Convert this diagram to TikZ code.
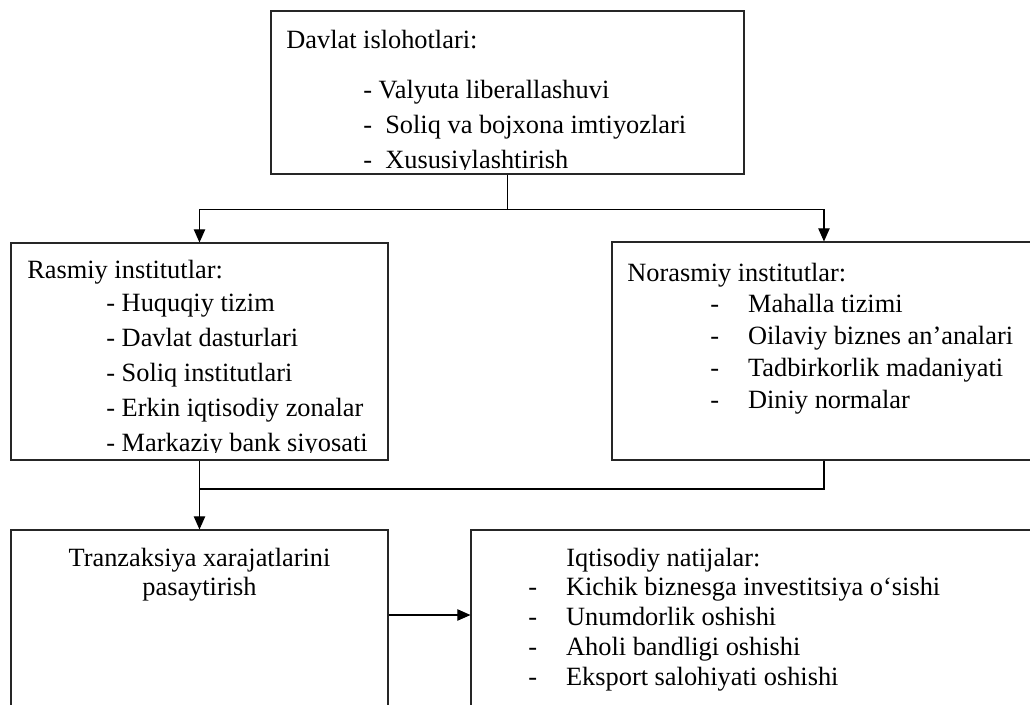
\documentclass[tikz,border=0pt]{standalone}
\usepackage{fontspec}
\setmainfont{Liberation Serif}
\usetikzlibrary{arrows.meta,fit}
\tikzset{
  box/.style={draw=black!85, line width=0.6pt},
  conn/.style={black, line width=0.65pt},
  arr/.style={conn, -{Triangle[length=7.5pt,width=6.5pt]}},
}
\newcommand{\dashitem}[1]{\makebox[21.5pt][l]{-}#1}

\begin{document}
\begin{tikzpicture}[scale=0.2]
\tikzstyle{every node}+=[inner sep=0pt, font=\fontsize{15}{18}\selectfont]
\clip (0,0) rectangle (103,-70.5);
% boxes
\node [box, fit={(27.1,-1.1) (74.4,-17.4)}] (reform) {};
\node [box, fit={(1.1,-24.3) (38.8,-46)}] (rasmiy) {};
\node [box, fit={(61.2,-24.2) (103.6,-46)}] (norasmiy) {};
\node [box, fit={(1.1,-53) (38.8,-75)}] (tranz) {};
\node [box, fit={(47.1,-53) (106,-75)}] (iqtisod) {};
% Davlat islohotlari
\begin{scope}
\clip (27.1,-1.1) rectangle (74.4,-16.95);
\node [anchor=base west] (reftitle) at (28.6,-4.8) {Davlat islohotlari:};
\node [anchor=base west] (ref1) at (36.3,-9.8) {- Valyuta liberallashuvi};
\node [anchor=base west] (ref2) at (36.3,-13.3) {-\ \ Soliq va bojxona imtiyozlari};
\node [anchor=base west] (ref3) at (36.3,-16.8) {-\ \ Xususiylashtirish};
\end{scope}
% Rasmiy institutlar
\begin{scope}
\clip (1.1,-24.3) rectangle (38.8,-45.25);
\node [anchor=base west] (rastitle) at (2.7,-27.8) {Rasmiy institutlar:};
\node [anchor=base west] (ras1) at (10.6,-31.1) {- Huquqiy tizim};
\node [anchor=base west] (ras2) at (10.6,-34.6) {- Davlat dasturlari};
\node [anchor=base west] (ras3) at (10.6,-38.1) {- Soliq institutlari};
\node [anchor=base west] (ras4) at (10.6,-41.6) {- Erkin iqtisodiy zonalar};
\node [anchor=base west] (ras5) at (10.6,-45.1) {- Markaziy bank siyosati};
\end{scope}
% Norasmiy institutlar
\node [anchor=base west] (nortitle) at (62.7,-28.1) {Norasmiy institutlar:};
\node [anchor=base west] (nor1) at (71.0,-31.2) {\dashitem{Mahalla tizimi}};
\node [anchor=base west] (nor2) at (71.0,-34.4) {\dashitem{Oilaviy biznes an’analari}};
\node [anchor=base west] (nor3) at (71.0,-37.6) {\dashitem{Tadbirkorlik madaniyati}};
\node [anchor=base west] (nor4) at (71.0,-40.8) {\dashitem{Diniy normalar}};
% Tranzaksiya
\node [anchor=base] (tr1) at (19.95,-56.6) {Tranzaksiya xarajatlarini};
\node [anchor=base] (tr2) at (19.95,-59.5) {pasaytirish};
% Iqtisodiy natijalar
\node [anchor=base west] (iqtitle) at (56.6,-56.6) {Iqtisodiy natijalar:};
\node [anchor=base west] (iq1) at (52.8,-59.5) {\dashitem{Kichik biznesga investitsiya o‘sishi}};
\node [anchor=base west] (iq2) at (52.8,-62.5) {\dashitem{Unumdorlik oshishi}};
\node [anchor=base west] (iq3) at (52.8,-65.5) {\dashitem{Aholi bandligi oshishi}};
\node [anchor=base west] (iq4) at (52.8,-68.5) {\dashitem{Eksport salohiyati oshishi}};
% connectors
\draw [conn] (reform.south) -- ++(0,-3.5) coordinate (split);
\draw [arr] (split) -| (rasmiy.north);
\draw [arr] (split) -| (norasmiy.north);
\draw [arr] (rasmiy.south) -- (tranz.north);
\coordinate (merge) at (rasmiy.south |- 0,-48.9);
\draw [conn] (norasmiy.south) |- (merge);
\draw [arr] (tranz.east |- 0,-61.5) -- (iqtisod.west |- 0,-61.5);
\end{tikzpicture}
\end{document}
